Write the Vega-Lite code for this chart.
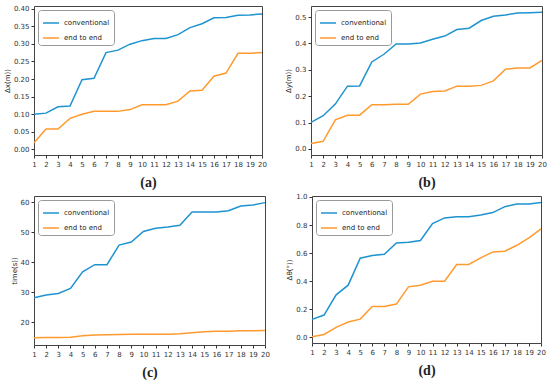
{
  "$schema": "https://vega.github.io/schema/vega-lite/v6.json",
  "padding": {"left": 2, "top": 4, "right": 2, "bottom": 0},
  "background": "white",
  "config": {
    "view": {"stroke": "#444", "strokeWidth": 1},
    "axis": {"labelFont": "DejaVu Sans", "labelFontSize": 7, "labelColor": "#333", "tickColor": "#333", "tickSize": 3, "domain": false, "grid": false, "titleFont": "DejaVu Sans", "titleFontSize": 7, "titleFontWeight": "normal", "titleColor": "#222", "labelPadding": 2},
    "axisX": {"titleFont": "Liberation Serif", "titleFontSize": 14, "titleFontWeight": "bold", "titlePadding": 8, "labelFlush": false},
    "axisY": {"titlePadding": 3},
    "legend": {"orient": "top-left", "offset": 4, "padding": 4, "strokeColor": "#999999", "strokeWidth": 1, "fillColor": "white", "cornerRadius": 3, "symbolType": "stroke", "symbolSize": 256, "symbolStrokeWidth": 1.5, "labelFont": "DejaVu Sans", "labelFontSize": 7, "labelColor": "#222", "rowPadding": 3, "title": null, "zindex": 5},
    "line": {"strokeWidth": 1.5},
    "concat": {"spacing": 10}
  },
  "datasets": {
    "a": [
      {"n":1,"s":"conventional","v":0.100},{"n":2,"s":"conventional","v":0.103},{"n":3,"s":"conventional","v":0.121},{"n":4,"s":"conventional","v":0.123},{"n":5,"s":"conventional","v":0.198},{"n":6,"s":"conventional","v":0.202},{"n":7,"s":"conventional","v":0.275},{"n":8,"s":"conventional","v":0.282},{"n":9,"s":"conventional","v":0.299},{"n":10,"s":"conventional","v":0.309},{"n":11,"s":"conventional","v":0.315},{"n":12,"s":"conventional","v":0.315},{"n":13,"s":"conventional","v":0.326},{"n":14,"s":"conventional","v":0.346},{"n":15,"s":"conventional","v":0.357},{"n":16,"s":"conventional","v":0.374},{"n":17,"s":"conventional","v":0.375},{"n":18,"s":"conventional","v":0.381},{"n":19,"s":"conventional","v":0.382},{"n":20,"s":"conventional","v":0.385},
      {"n":1,"s":"end to end","v":0.019},{"n":2,"s":"end to end","v":0.058},{"n":3,"s":"end to end","v":0.058},{"n":4,"s":"end to end","v":0.088},{"n":5,"s":"end to end","v":0.100},{"n":6,"s":"end to end","v":0.108},{"n":7,"s":"end to end","v":0.108},{"n":8,"s":"end to end","v":0.108},{"n":9,"s":"end to end","v":0.113},{"n":10,"s":"end to end","v":0.127},{"n":11,"s":"end to end","v":0.127},{"n":12,"s":"end to end","v":0.127},{"n":13,"s":"end to end","v":0.137},{"n":14,"s":"end to end","v":0.166},{"n":15,"s":"end to end","v":0.168},{"n":16,"s":"end to end","v":0.208},{"n":17,"s":"end to end","v":0.217},{"n":18,"s":"end to end","v":0.273},{"n":19,"s":"end to end","v":0.273},{"n":20,"s":"end to end","v":0.275}
    ],
    "b": [
      {"n":1,"s":"conventional","v":0.101},{"n":2,"s":"conventional","v":0.126},{"n":3,"s":"conventional","v":0.170},{"n":4,"s":"conventional","v":0.238},{"n":5,"s":"conventional","v":0.239},{"n":6,"s":"conventional","v":0.330},{"n":7,"s":"conventional","v":0.359},{"n":8,"s":"conventional","v":0.398},{"n":9,"s":"conventional","v":0.398},{"n":10,"s":"conventional","v":0.402},{"n":11,"s":"conventional","v":0.416},{"n":12,"s":"conventional","v":0.428},{"n":13,"s":"conventional","v":0.453},{"n":14,"s":"conventional","v":0.458},{"n":15,"s":"conventional","v":0.487},{"n":16,"s":"conventional","v":0.503},{"n":17,"s":"conventional","v":0.508},{"n":18,"s":"conventional","v":0.515},{"n":19,"s":"conventional","v":0.516},{"n":20,"s":"conventional","v":0.518},
      {"n":1,"s":"end to end","v":0.021},{"n":2,"s":"end to end","v":0.029},{"n":3,"s":"end to end","v":0.110},{"n":4,"s":"end to end","v":0.128},{"n":5,"s":"end to end","v":0.128},{"n":6,"s":"end to end","v":0.168},{"n":7,"s":"end to end","v":0.168},{"n":8,"s":"end to end","v":0.169},{"n":9,"s":"end to end","v":0.169},{"n":10,"s":"end to end","v":0.208},{"n":11,"s":"end to end","v":0.218},{"n":12,"s":"end to end","v":0.220},{"n":13,"s":"end to end","v":0.238},{"n":14,"s":"end to end","v":0.238},{"n":15,"s":"end to end","v":0.241},{"n":16,"s":"end to end","v":0.258},{"n":17,"s":"end to end","v":0.302},{"n":18,"s":"end to end","v":0.307},{"n":19,"s":"end to end","v":0.307},{"n":20,"s":"end to end","v":0.336}
    ],
    "c": [
      {"n":1,"s":"conventional","v":28.2},{"n":2,"s":"conventional","v":29.1},{"n":3,"s":"conventional","v":29.6},{"n":4,"s":"conventional","v":31.3},{"n":5,"s":"conventional","v":36.8},{"n":6,"s":"conventional","v":39.2},{"n":7,"s":"conventional","v":39.2},{"n":8,"s":"conventional","v":45.7},{"n":9,"s":"conventional","v":46.7},{"n":10,"s":"conventional","v":50.2},{"n":11,"s":"conventional","v":51.3},{"n":12,"s":"conventional","v":51.7},{"n":13,"s":"conventional","v":52.3},{"n":14,"s":"conventional","v":56.7},{"n":15,"s":"conventional","v":56.7},{"n":16,"s":"conventional","v":56.7},{"n":17,"s":"conventional","v":57.1},{"n":18,"s":"conventional","v":58.7},{"n":19,"s":"conventional","v":59.0},{"n":20,"s":"conventional","v":59.8},
      {"n":1,"s":"end to end","v":14.9},{"n":2,"s":"end to end","v":15.0},{"n":3,"s":"end to end","v":15.0},{"n":4,"s":"end to end","v":15.1},{"n":5,"s":"end to end","v":15.6},{"n":6,"s":"end to end","v":15.8},{"n":7,"s":"end to end","v":15.9},{"n":8,"s":"end to end","v":16.0},{"n":9,"s":"end to end","v":16.1},{"n":10,"s":"end to end","v":16.1},{"n":11,"s":"end to end","v":16.1},{"n":12,"s":"end to end","v":16.1},{"n":13,"s":"end to end","v":16.2},{"n":14,"s":"end to end","v":16.6},{"n":15,"s":"end to end","v":16.9},{"n":16,"s":"end to end","v":17.1},{"n":17,"s":"end to end","v":17.1},{"n":18,"s":"end to end","v":17.2},{"n":19,"s":"end to end","v":17.2},{"n":20,"s":"end to end","v":17.3}
    ],
    "d": [
      {"n":1,"s":"conventional","v":0.128},{"n":2,"s":"conventional","v":0.159},{"n":3,"s":"conventional","v":0.303},{"n":4,"s":"conventional","v":0.372},{"n":5,"s":"conventional","v":0.564},{"n":6,"s":"conventional","v":0.583},{"n":7,"s":"conventional","v":0.592},{"n":8,"s":"conventional","v":0.673},{"n":9,"s":"conventional","v":0.678},{"n":10,"s":"conventional","v":0.690},{"n":11,"s":"conventional","v":0.810},{"n":12,"s":"conventional","v":0.851},{"n":13,"s":"conventional","v":0.860},{"n":14,"s":"conventional","v":0.860},{"n":15,"s":"conventional","v":0.872},{"n":16,"s":"conventional","v":0.889},{"n":17,"s":"conventional","v":0.931},{"n":18,"s":"conventional","v":0.950},{"n":19,"s":"conventional","v":0.950},{"n":20,"s":"conventional","v":0.960},
      {"n":1,"s":"end to end","v":0.005},{"n":2,"s":"end to end","v":0.021},{"n":3,"s":"end to end","v":0.071},{"n":4,"s":"end to end","v":0.109},{"n":5,"s":"end to end","v":0.130},{"n":6,"s":"end to end","v":0.220},{"n":7,"s":"end to end","v":0.220},{"n":8,"s":"end to end","v":0.237},{"n":9,"s":"end to end","v":0.360},{"n":10,"s":"end to end","v":0.372},{"n":11,"s":"end to end","v":0.400},{"n":12,"s":"end to end","v":0.400},{"n":13,"s":"end to end","v":0.519},{"n":14,"s":"end to end","v":0.519},{"n":15,"s":"end to end","v":0.566},{"n":16,"s":"end to end","v":0.609},{"n":17,"s":"end to end","v":0.614},{"n":18,"s":"end to end","v":0.656},{"n":19,"s":"end to end","v":0.709},{"n":20,"s":"end to end","v":0.773}
    ]
  },
  "resolve": {"scale": {"color": "independent"}, "legend": {"color": "independent"}},
  "spacing": 2,
  "vconcat": [
    {
      "spacing": 17,
      "resolve": {"scale": {"color": "independent"}, "legend": {"color": "independent"}},
      "hconcat": [
        {
          "width": 228, "height": 149,
          "data": {"name": "a"},
          "mark": {"type": "line"},
          "encoding": {
            "x": {"field": "n", "type": "quantitative", "scale": {"domain": [1, 20], "nice": false}, "axis": {"values": [1,2,3,4,5,6,7,8,9,10,11,12,13,14,15,16,17,18,19,20], "title": "(a)"}},
            "y": {"field": "v", "type": "quantitative", "scale": {"domain": [-0.016, 0.4075], "nice": false, "zero": false}, "axis": {"values": [0,0.05,0.1,0.15,0.2,0.25,0.3,0.35,0.4], "format": ".2f", "title": "Δx(m))"}},
            "color": {"field": "s", "type": "nominal", "scale": {"domain": ["conventional", "end to end"], "range": ["#1f93d0", "#ff9a2e"]}}
          }
        },
        {
          "width": 231, "height": 149,
          "data": {"name": "b"},
          "mark": {"type": "line"},
          "encoding": {
            "x": {"field": "n", "type": "quantitative", "scale": {"domain": [1, 20], "nice": false}, "axis": {"values": [1,2,3,4,5,6,7,8,9,10,11,12,13,14,15,16,17,18,19,20], "title": "(b)"}},
            "y": {"field": "v", "type": "quantitative", "scale": {"domain": [-0.023, 0.542], "nice": false, "zero": false}, "axis": {"values": [0,0.1,0.2,0.3,0.4,0.5], "format": ".1f", "title": "Δy(m))"}},
            "color": {"field": "s", "type": "nominal", "scale": {"domain": ["conventional", "end to end"], "range": ["#1f93d0", "#ff9a2e"]}}
          }
        }
      ]
    },
    {
      "spacing": 15,
      "resolve": {"scale": {"color": "independent"}, "legend": {"color": "independent"}},
      "hconcat": [
        {
          "width": 231, "height": 149,
          "data": {"name": "c"},
          "mark": {"type": "line"},
          "encoding": {
            "x": {"field": "n", "type": "quantitative", "scale": {"domain": [1, 20], "nice": false}, "axis": {"values": [1,2,3,4,5,6,7,8,9,10,11,12,13,14,15,16,17,18,19,20], "title": "(c)"}},
            "y": {"field": "v", "type": "quantitative", "scale": {"domain": [12.5, 62], "nice": false, "zero": false}, "axis": {"values": [20,30,40,50,60], "title": "time(s))"}},
            "color": {"field": "s", "type": "nominal", "scale": {"domain": ["conventional", "end to end"], "range": ["#1f93d0", "#ff9a2e"]}}
          }
        },
        {
          "width": 229, "height": 147,
          "data": {"name": "d"},
          "mark": {"type": "line"},
          "encoding": {
            "x": {"field": "n", "type": "quantitative", "scale": {"domain": [1, 20], "nice": false}, "axis": {"values": [1,2,3,4,5,6,7,8,9,10,11,12,13,14,15,16,17,18,19,20], "title": "(d)"}},
            "y": {"field": "v", "type": "quantitative", "scale": {"domain": [-0.04, 1.007], "nice": false, "zero": false}, "axis": {"values": [0,0.2,0.4,0.6,0.8,1.0], "format": ".1f", "title": "Δθ(°))"}},
            "color": {"field": "s", "type": "nominal", "scale": {"domain": ["conventional", "end to end"], "range": ["#1f93d0", "#ff9a2e"]}}
          }
        }
      ]
    }
  ]
}
